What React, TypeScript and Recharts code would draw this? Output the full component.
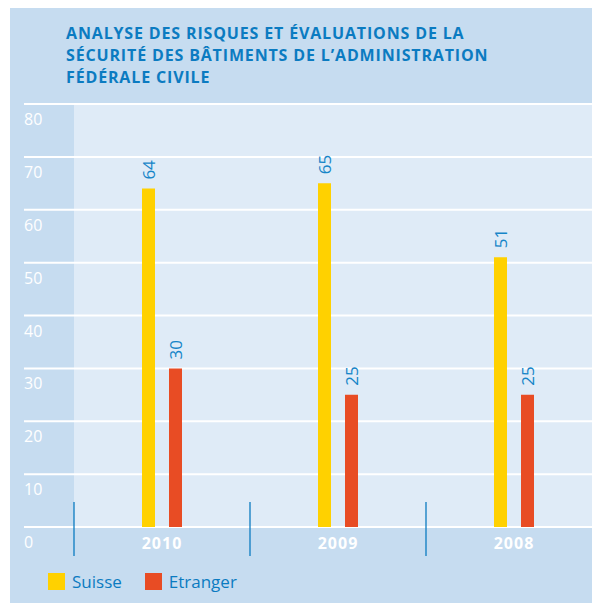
import { Bar, BarChart, CartesianGrid, LabelList, XAxis, YAxis } from 'recharts';

const YEARS = ['2010', '2009', '2008'];
const SUISSE = [64, 65, 51];
const ETRANGER = [30, 25, 25];
const Y_TICKS = [0, 10, 20, 30, 40, 50, 60, 70, 80];
const SERIES_NAMES = ['Suisse', 'Etranger'];
const TITLE_LINES = [
  'ANALYSE DES RISQUES ET ÉVALUATIONS DE LA',
  'SÉCURITÉ DES BÂTIMENTS DE L’ADMINISTRATION',
  'FÉDÉRALE CIVILE',
];

const FONT = '"Open Sans", "Noto Sans", sans-serif';
const PANEL_BG = '#c6dcf0';
const PLOT_BG = '#dfebf7';
const BLUE = '#0b7bc1';
const YELLOW = '#ffd100';
const RED = '#e84c24';
const SERIES_COLORS = [YELLOW, RED];

const CHART_W = 602;
const CHART_H = 603;
const Y_AXIS_W = 74;
const PLOT_TOP = 104;
const X_AXIS_H = 76;
const PLOT_BOTTOM = CHART_H - X_AXIS_H;
const BAND = (CHART_W - Y_AXIS_W) / YEARS.length;

const data = YEARS.map((year, i) => ({
  year,
  suisse: SUISSE[i],
  etranger: ETRANGER[i],
}));

function YTick({ y, payload }: any) {
  return (
    <g>
      <line x1={24} x2={Y_AXIS_W} y1={y} y2={y} stroke="#fff" strokeWidth={2} />
      <text x={24} y={y + 21} fill="#fff" fontSize={16} fontFamily={FONT}>
        {payload.value}
      </text>
    </g>
  );
}

function XTick({ x, payload }: any) {
  const sep = x - BAND / 2;
  return (
    <g>
      <line x1={sep} x2={sep} y1={PLOT_BOTTOM - 25} y2={PLOT_BOTTOM + 29} stroke={BLUE} strokeWidth={1.3} />
      <text
        x={x}
        y={PLOT_BOTTOM + 22}
        textAnchor="middle"
        fill="#fff"
        fontSize={16}
        fontWeight={700}
        letterSpacing={1}
        fontFamily={FONT}
      >
        {payload.value}
      </text>
    </g>
  );
}

function ValueLabel({ x, y, width, value }: any) {
  const cx = x + width / 2;
  const cy = y - 9;
  return (
    <text
      x={cx}
      y={cy}
      transform={`rotate(-90, ${cx}, ${cy})`}
      dominantBaseline="central"
      fill="#1685c8"
      fontSize={17}
      fontFamily={FONT}
    >
      {value}
    </text>
  );
}

export default function App() {
  return (
    <div
      style={{
        position: 'absolute',
        left: 0,
        top: 0,
        width: 592,
        height: 603,
        overflow: 'hidden',
        background: '#fff',
        fontFamily: FONT,
      }}
    >
      <div style={{ position: 'absolute', left: 10, top: 8, right: 0, bottom: 0, background: PANEL_BG }} />
      <div
        style={{
          position: 'absolute',
          left: 66,
          top: 22,
          color: BLUE,
          fontSize: 16,
          fontWeight: 700,
          lineHeight: '22px',
          letterSpacing: 0.85,
          whiteSpace: 'nowrap',
        }}
      >
        {TITLE_LINES.map((l) => (
          <div key={l}>{l}</div>
        ))}
      </div>

      <div style={{ position: 'absolute', left: 0, top: 0 }}>
        <BarChart
          width={CHART_W}
          height={CHART_H}
          data={data}
          margin={{ top: PLOT_TOP, right: 0, left: 0, bottom: 0 }}
          barSize={13}
          barGap={14}
        >
          <CartesianGrid vertical={false} stroke="#fff" strokeWidth={2} fill={PLOT_BG} fillOpacity={1} />
          <YAxis
            domain={[0, 80]}
            ticks={Y_TICKS}
            width={Y_AXIS_W}
            axisLine={false}
            tickLine={false}
            tick={<YTick />}
            interval={0}
          />
          <XAxis
            dataKey="year"
            height={X_AXIS_H}
            axisLine={false}
            tickLine={false}
            interval={0}
            tick={<XTick />}
          />
          <Bar dataKey="suisse" name={SERIES_NAMES[0]} fill={YELLOW} isAnimationActive={false}>
            <LabelList dataKey="suisse" content={<ValueLabel />} />
          </Bar>
          <Bar dataKey="etranger" name={SERIES_NAMES[1]} fill={RED} isAnimationActive={false}>
            <LabelList dataKey="etranger" content={<ValueLabel />} />
          </Bar>
        </BarChart>
      </div>

      <div
        style={{
          position: 'absolute',
          left: 48,
          top: 573,
          display: 'flex',
          alignItems: 'center',
          gap: 23,
          color: BLUE,
          fontSize: 17,
          lineHeight: '17px',
        }}
      >
        {SERIES_NAMES.map((name, i) => (
          <div key={name} style={{ display: 'flex', alignItems: 'center', gap: 7 }}>
            <span style={{ width: 17, height: 17, background: SERIES_COLORS[i], display: 'inline-block' }} />
            <span>{name}</span>
          </div>
        ))}
      </div>
    </div>
  );
}
